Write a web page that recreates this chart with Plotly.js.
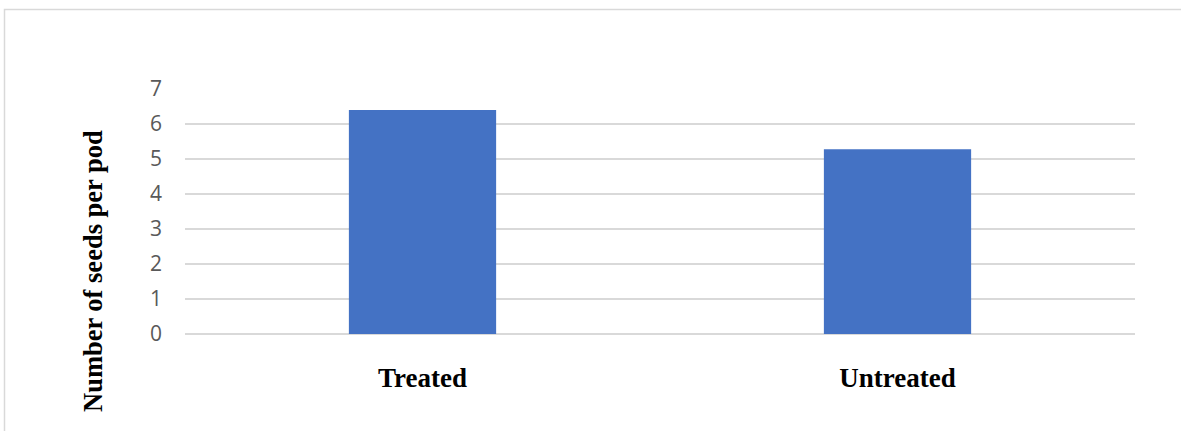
<!DOCTYPE html>
<html>
<head>
<meta charset="utf-8">
<script src="https://cdn.plot.ly/plotly-3.0.1.min.js"></script>
<style>
  html, body { margin: 0; padding: 0; background: #ffffff; }
  #chart { width: 1181px; height: 431px; }
</style>
</head>
<body>
<div id="chart"></div>
<script>
const categories = ["Treated", "Untreated"];
const seedsPerPod = [6.4, 5.28];
const yTickValues = [0, 1, 2, 3, 4, 5, 6, 7];
const yAxisTitle = "Number of seeds per pod";

const L = 185, R = 46, T = 89, B = 97, W = 1181, H = 431;
const pw = W - L - R, ph = H - T - B;

const trace = {
  type: "bar",
  x: categories,
  y: seedsPerPod,
  marker: { color: "#4472c4", line: { width: 0 } },
  hoverinfo: "x+y"
};

const layout = {
  width: W, height: H,
  margin: { l: L, r: R, t: T, b: B, pad: 0 },
  paper_bgcolor: "#ffffff",
  plot_bgcolor: "#ffffff",
  bargap: 0.69,
  showlegend: false,
  xaxis: {
    type: "category",
    showgrid: false,
    zeroline: false,
    showline: false,
    ticks: "",
    ticklabelstandoff: 25,
    tickfont: { family: "Liberation Serif, Times New Roman, serif", size: 27, color: "#000000", weight: "bold" }
  },
  yaxis: {
    range: [0, 7],
    tickvals: yTickValues,
    showgrid: true,
    gridcolor: "#d9d9d9",
    gridwidth: 1.3,
    zeroline: true,
    zerolinecolor: "#d9d9d9",
    zerolinewidth: 1.5,
    showline: false,
    ticks: "",
    ticklabelstandoff: 22,
    tickfont: { family: "Open Sans, Liberation Sans, sans-serif", size: 21, color: "#595959" }
  },
  annotations: [{
    text: "<b>" + yAxisTitle + "</b>",
    xref: "paper", yref: "paper",
    x: (93 - L) / pw, y: (H - B - 271) / ph,
    xanchor: "center", yanchor: "middle",
    textangle: -90,
    showarrow: false,
    font: { family: "Liberation Serif, Times New Roman, serif", size: 26.5, color: "#000000" }
  }],
  shapes: [{
    type: "rect",
    xref: "paper", yref: "paper",
    x0: (4.5 - L) / pw, x1: (W + 5 - L) / pw,
    y0: (H - B - (H + 5)) / ph, y1: (H - B - 9.5) / ph,
    line: { color: "#d9d9d9", width: 1.5 },
    fillcolor: "rgba(0,0,0,0)",
    layer: "below"
  }]
};

Plotly.newPlot("chart", [trace], layout, { displayModeBar: false, staticPlot: true });
</script>
</body>
</html>
